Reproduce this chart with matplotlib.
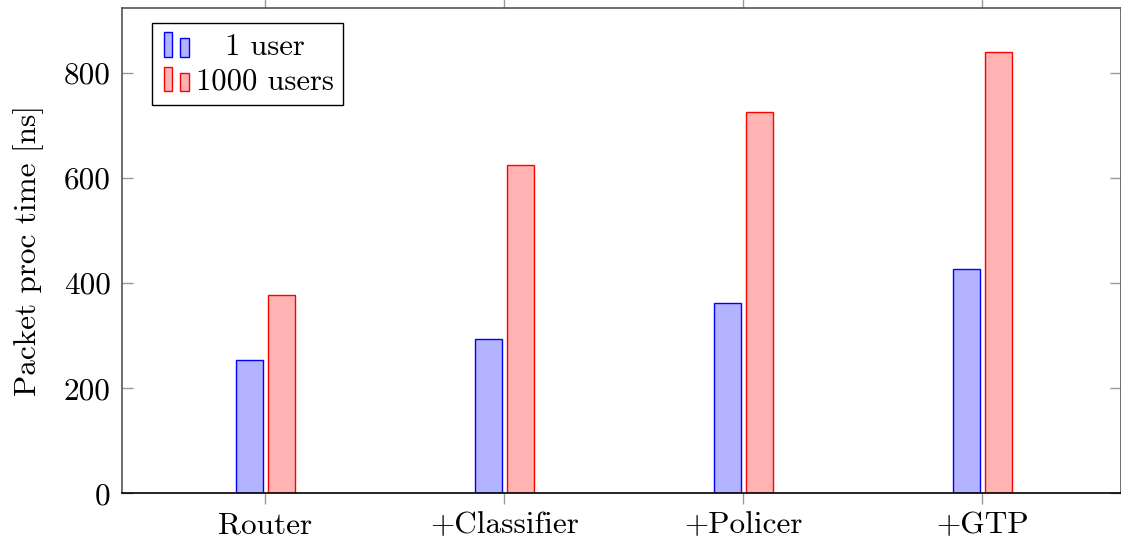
import matplotlib
matplotlib.use("Agg")
import matplotlib.pyplot as plt
from matplotlib.patches import Rectangle
from matplotlib.legend_handler import HandlerBase
import numpy as np

categories = ["Router", "+Classifier", "+Policer", "+GTP"]
one_user = [254, 294, 361, 427]
thousand_users = [377, 625, 725, 840]
series_labels = ["1 user", "1000 users"]
yticks = [0, 200, 400, 600, 800]

plt.rcParams['font.family'] = ['cmr10', 'DejaVu Serif']
plt.rcParams['axes.formatter.use_mathtext'] = True
FS_TICK = 22.5
FS_LABEL = 22.5
FS_LEG = 22

BLUE_FACE, BLUE_EDGE = '#b3b3ff', '#0000ff'
RED_FACE, RED_EDGE = '#ffb3b3', '#ff0000'

fig = plt.figure(figsize=(11.21, 5.44), dpi=100)
ax = fig.add_axes([0.1088, 0.0932, 1.0 - 0.1088, 0.9853 - 0.0932])

x = np.arange(len(categories))
w = 0.113
off = 0.067
b1 = ax.bar(x - off, one_user, w, color=BLUE_FACE, edgecolor=BLUE_EDGE, linewidth=1.0, label=series_labels[0])
b2 = ax.bar(x + off, thousand_users, w, color=RED_FACE, edgecolor=RED_EDGE, linewidth=1.0, label=series_labels[1])

ax.set_xlim(-0.6, 3.58)
ax.set_ylim(0, 923)
ax.set_xticks(x)
ax.set_xticklabels(categories, fontsize=FS_TICK)
ax.set_yticks(yticks)
ax.set_yticklabels([str(v) for v in yticks], fontsize=FS_TICK)
ax.set_ylabel("Packet proc time [ns]", fontsize=FS_LABEL)
ax.yaxis.set_label_coords(-0.078, 0.5)

ax.tick_params(axis='x', which='major', direction='out', top=True, bottom=True,
               length=8, width=1.0, color='#999999', pad=5)
ax.tick_params(axis='y', which='major', direction='in', left=True, right=True,
               length=8, width=1.0, color='#999999', pad=8)

for side in ['left', 'top', 'right']:
    ax.spines[side].set_color('#555555')
    ax.spines[side].set_linewidth(1.2)
ax.spines['bottom'].set_color('black')
ax.spines['bottom'].set_linewidth(1.2)


class TwoBarHandler(HandlerBase):
    def __init__(self, face, edge):
        super().__init__()
        self.face = face
        self.edge = edge

    def create_artists(self, legend, orig_handle, xdescent, ydescent, width, height, fontsize, trans):
        bw = width * 0.28
        r1 = Rectangle((-xdescent + width * 0.08, -ydescent), bw, height,
                       facecolor=self.face, edgecolor=self.edge, linewidth=1.0, transform=trans)
        r2 = Rectangle((-xdescent + width * 0.62, -ydescent), bw, height * 0.76,
                       facecolor=self.face, edgecolor=self.edge, linewidth=1.0, transform=trans)
        return [r1, r2]


leg = ax.legend(handles=[b1, b2], labels=series_labels, loc='upper left',
                bbox_to_anchor=(0.030, 0.969), borderaxespad=0, fontsize=FS_LEG,
                frameon=True, fancybox=False, edgecolor='black', framealpha=1,
                handlelength=1.0, handleheight=0.85, handletextpad=0.15,
                borderpad=0.3, labelspacing=0.2,
                handler_map={b1: TwoBarHandler(BLUE_FACE, BLUE_EDGE),
                             b2: TwoBarHandler(RED_FACE, RED_EDGE)})
leg.get_frame().set_linewidth(1.0)

# center the shorter legend label like pgfplots does
fig.canvas.draw()
r = fig.canvas.get_renderer()
texts = leg.get_texts()
widths = [t.get_window_extent(r).width for t in texts]
wmax = max(widths)
for t, wd in zip(texts, widths):
    t.set_x((wmax - wd) / 2.0)

fig.savefig("out.png", dpi=100)
